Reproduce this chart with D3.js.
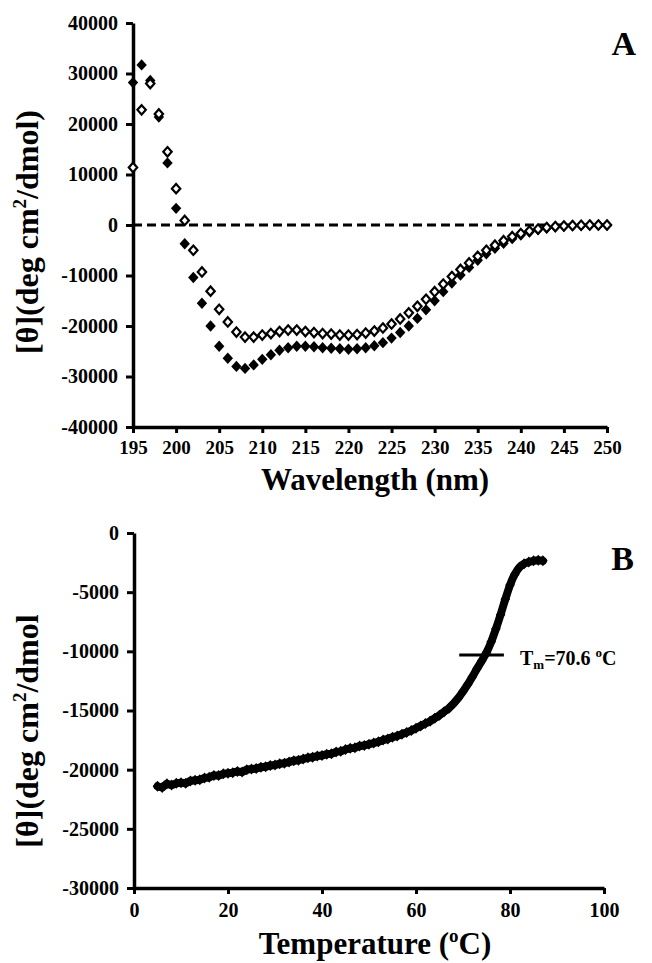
<!DOCTYPE html>
<html>
<head>
<meta charset="utf-8">
<script src="https://cdn.jsdelivr.net/npm/d3@7"></script>
<style>
  body { margin: 0; background: #fff; }
  text { font-family: "Liberation Serif", "Times New Roman", serif; font-weight: bold; fill: #000; }
</style>
</head>
<body>
<svg id="chart"></svg>
<script>
// ---- panel A: CD spectra ----
const wavelength = [195,196,197,198,199,200,201,202,203,204,205,206,207,208,209,210,211,212,213,214,
  215,216,217,218,219,220,221,222,223,224,225,226,227,228,229,230,231,232,233,234,
  235,236,237,238,239,240,241,242,243,244,245,246,247,248,249,250];
const filledA = [28200,31700,28600,21400,12300,3300,-3700,-10400,-15500,-20000,
  -24000,-26400,-28000,-28400,-27700,-26600,-25700,-24800,-24300,-24000,
  -24000,-24100,-24300,-24400,-24500,-24600,-24500,-24300,-23900,-23300,
  -22400,-21300,-20000,-18500,-16800,-15000,-13200,-11500,-9900,-8400,
  -7000,-5700,-4600,-3600,-2700,-2000,-1400,-900,-600,-400,
  -250,-150,-100,-50,-50,-50];
const openA = [11400,22800,28000,22000,14500,7200,900,-5000,-9300,-13100,
  -16700,-19200,-21200,-22200,-22200,-21800,-21500,-21100,-20800,-20800,
  -21100,-21300,-21500,-21600,-21800,-21800,-21700,-21400,-21000,-20400,
  -19600,-18600,-17400,-16100,-14700,-13200,-11700,-10200,-8800,-7500,
  -6200,-5000,-4000,-3100,-2300,-1700,-1200,-800,-500,-300,
  -200,-100,-50,0,0,0];
const xTicksA = [195,200,205,210,215,220,225,230,235,240,245,250];
const yTicksA = [-40000,-30000,-20000,-10000,0,10000,20000,30000,40000];

// ---- panel B: thermal melt ----
const temperature = [5,6,7,8,9,10,11,12,13,14,15,16,17,18,19,20,21,22,23,24,25,26,27,28,29,30,
  31,32,33,34,35,36,37,38,39,40,41,42,43,44,45,46,47,48,49,50,51,52,53,54,55,56,57,58,59,60,
  61,62,63,64,65,66,67,68,69,70,71,72,73,74,75,76,77,78,79,80,81,82,83,84,85,86,87];
const ellipB = [-21400,-21500,-21200,-21300,-21150,-21100,-21150,-20950,-20900,-20850,
  -20700,-20650,-20500,-20500,-20350,-20300,-20250,-20150,-20200,-20000,
  -19950,-19900,-19800,-19750,-19650,-19600,-19500,-19450,-19350,-19250,
  -19200,-19100,-19000,-18950,-18850,-18800,-18700,-18650,-18500,-18450,
  -18300,-18200,-18150,-18000,-17950,-17850,-17750,-17650,-17500,-17400,
  -17250,-17150,-17000,-16850,-16700,-16500,-16300,-16100,-15900,-15650,
  -15400,-15100,-14800,-14400,-13950,-13400,-12800,-12150,-11450,-10800,
  -10100,-9200,-8100,-6900,-5600,-4400,-3500,-2900,-2600,-2450,
  -2350,-2300,-2350];
const xTicksB = [0,20,40,60,80,100];
const yTicksB = [-30000,-25000,-20000,-15000,-10000,-5000,0];
const tmMark = {from: 69.2, to: 78.7, value: -10300};

const W = 652, H = 963;
const svg = d3.select("#chart").attr("width", W).attr("height", H);
svg.append("rect").attr("width", W).attr("height", H).attr("fill", "#fff");

const diamond = (hw, hh) => `M0,${-hh}L${hw},0L0,${hh}L${-hw},0Z`;

function styleAxis(g, size, weight) {
  g.attr("font-family", null).attr("font-size", size);
  g.select(".domain").attr("stroke", "#000").attr("stroke-width", 3.5);
  g.selectAll(".tick line").attr("stroke", "#000").attr("stroke-width", 3);
  g.selectAll(".tick text").attr("font-weight", weight);
}

// ===== Panel A =====
const xA = d3.scaleLinear().domain([195, 250]).range([133, 607]);
const yA = d3.scaleLinear().domain([-40000, 40000]).range([427, 23]);

// zero line
svg.append("line")
  .attr("x1", xA(195)).attr("x2", xA(250))
  .attr("y1", yA(0)).attr("y2", yA(0))
  .attr("stroke", "#000").attr("stroke-width", 3)
  .attr("stroke-dasharray", "9,5");

svg.append("g").attr("transform", `translate(0,${yA(-40000)})`)
  .call(d3.axisBottom(xA).tickValues(xTicksA).tickSize(6).tickSizeOuter(0)
    .tickPadding(8).tickFormat(d => String(d)))
  .call(g => styleAxis(g, 19, "bold"));

svg.append("g").attr("transform", `translate(${xA(195)},0)`)
  .call(d3.axisLeft(yA).tickValues(yTicksA).tickSize(7).tickSizeOuter(0)
    .tickPadding(8).tickFormat(d => String(d)))
  .call(g => styleAxis(g, 20, "bold"));

svg.append("g").selectAll("path")
  .data(wavelength.map((w, i) => [w, filledA[i]]))
  .join("path")
  .attr("transform", d => `translate(${xA(d[0])},${yA(d[1])})`)
  .attr("d", diamond(5.2, 5.7))
  .attr("fill", "#000");

svg.append("g").selectAll("path")
  .data(wavelength.map((w, i) => [w, openA[i]]))
  .join("path")
  .attr("transform", d => `translate(${xA(d[0])},${yA(d[1])})`)
  .attr("d", diamond(4.2, 4.7))
  .attr("fill", "#fff").attr("stroke", "#000").attr("stroke-width", 2.2);

svg.append("text").attr("x", 375).attr("y", 490)
  .attr("text-anchor", "middle").attr("font-size", 31)
  .text("Wavelength (nm)");

svg.append("text").attr("transform", "translate(38,232) rotate(-90)")
  .attr("text-anchor", "middle").attr("font-size", 32)
  .call(t => {
    t.append("tspan").text("[θ](deg cm");
    t.append("tspan").attr("font-size", 19).attr("dy", -12).text("2");
    t.append("tspan").attr("dy", 12).text("/dmol)");
  });

svg.append("text").attr("x", 636).attr("y", 55)
  .attr("text-anchor", "end").attr("font-size", 34).text("A");

// ===== Panel B =====
const xB = d3.scaleLinear().domain([0, 100]).range([134, 604]);
const yB = d3.scaleLinear().domain([-30000, 0]).range([888, 533]);

svg.append("g").attr("transform", `translate(0,${yB(-30000)})`)
  .call(d3.axisBottom(xB).tickValues(xTicksB).tickSize(6).tickSizeOuter(0)
    .tickPadding(9).tickFormat(d => String(d)))
  .call(g => styleAxis(g, 20, "normal"));

svg.append("g").attr("transform", `translate(${xB(0)},0)`)
  .call(d3.axisLeft(yB).tickValues(yTicksB).tickSize(7).tickSizeOuter(0)
    .tickPadding(8).tickFormat(d => String(d)))
  .call(g => styleAxis(g, 20, "bold"));

const meltPts = temperature.map((t, i) => [t, ellipB[i]]);
svg.append("path").datum(meltPts)
  .attr("d", d3.line().x(d => xB(d[0])).y(d => yB(d[1])).curve(d3.curveMonotoneX))
  .attr("fill", "none").attr("stroke", "#000").attr("stroke-width", 8)
  .attr("stroke-linejoin", "round").attr("stroke-linecap", "round");
svg.append("g").selectAll("path")
  .data(meltPts)
  .join("path")
  .attr("transform", d => `translate(${xB(d[0])},${yB(d[1])})`)
  .attr("d", diamond(4.8, 5.5))
  .attr("fill", "#000");

svg.append("line")
  .attr("x1", xB(tmMark.from)).attr("x2", xB(tmMark.to))
  .attr("y1", yB(tmMark.value)).attr("y2", yB(tmMark.value))
  .attr("stroke", "#000").attr("stroke-width", 3);

svg.append("text").attr("x", 520).attr("y", 665).attr("font-size", 20)
  .call(t => {
    t.append("tspan").text("T");
    t.append("tspan").attr("font-size", 13).attr("dy", 4).text("m");
    t.append("tspan").attr("dy", -4).text("=70.6 ");
    t.append("tspan").attr("font-size", 13).attr("dy", -8).text("o");
    t.append("tspan").attr("dy", 8).text("C");
  });

svg.append("text").attr("x", 375).attr("y", 954)
  .attr("text-anchor", "middle").attr("font-size", 31)
  .call(t => {
    t.append("tspan").text("Temperature (");
    t.append("tspan").attr("font-size", 19).attr("dy", -12).text("o");
    t.append("tspan").attr("dy", 12).text("C)");
  });

svg.append("text").attr("transform", "translate(38,731) rotate(-90)")
  .attr("text-anchor", "middle").attr("font-size", 32)
  .call(t => {
    t.append("tspan").text("[θ](deg cm");
    t.append("tspan").attr("font-size", 19).attr("dy", -12).text("2");
    t.append("tspan").attr("dy", 12).text("/dmol");
  });

svg.append("text").attr("x", 634).attr("y", 570)
  .attr("text-anchor", "end").attr("font-size", 34).text("B");
</script>
</body>
</html>
